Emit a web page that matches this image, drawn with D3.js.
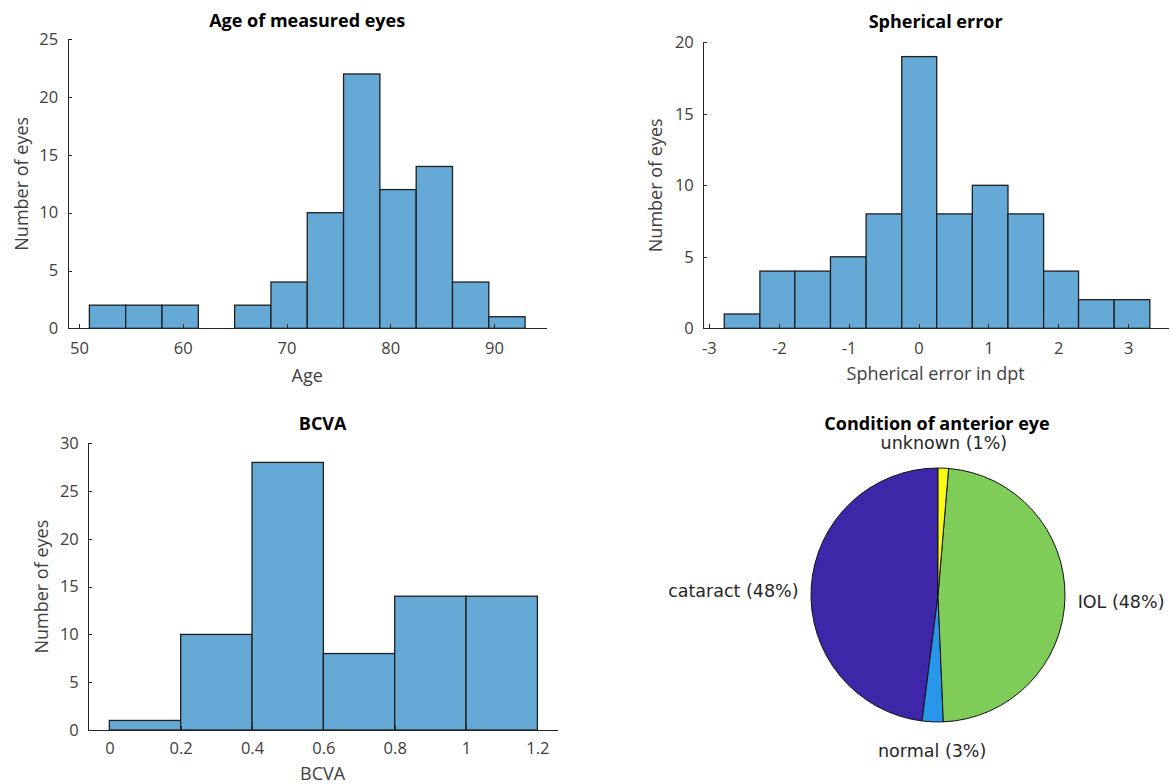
<!DOCTYPE html>
<html>
<head>
<meta charset="utf-8">
<script src="https://cdn.jsdelivr.net/npm/d3@7"></script>
<style>
  body { margin: 0; background: #fff; }
  .tick text { font-family: 'Open Sans', sans-serif; font-size: 16.5px; fill: #404040; }
  .axis path, .axis line { stroke: #262626; stroke-width: 1; shape-rendering: crispEdges; }
  .label { font-family: 'Open Sans', sans-serif; font-size: 18px; fill: #404040; }
  .title { font-family: 'Open Sans', sans-serif; font-size: 18px; font-weight: bold; fill: #000; }
  .pielabel { font-family: 'DejaVu Sans', sans-serif; font-size: 17.5px; fill: #262626; }
</style>
</head>
<body>
<svg id="chart" width="1171" height="784"></svg>
<script>
// age histogram
const ageEdges = [51, 54.5, 58, 61.5, 65, 68.5, 72, 75.5, 79, 82.5, 86, 89.5, 93];
const ageCounts = [2, 2, 2, 0, 2, 4, 10, 22, 12, 14, 4, 1];
const ageTicks = [50, 60, 70, 80, 90];
const ageYTicks = [0, 5, 10, 15, 20, 25];

// spherical error histogram
const sphEdges = [-2.78, -2.27, -1.77, -1.26, -0.75, -0.24, 0.26, 0.77, 1.28, 1.79, 2.29, 2.80, 3.31];
const sphCounts = [1, 4, 4, 5, 8, 19, 8, 10, 8, 4, 2, 2];
const sphTicks = [-3, -2, -1, 0, 1, 2, 3];
const sphYTicks = [0, 5, 10, 15, 20];

// BCVA histogram
const bcvaEdges = [0, 0.2, 0.4, 0.6, 0.8, 1.0, 1.2];
const bcvaCounts = [1, 10, 28, 8, 14, 14];
const bcvaTicks = [0, 0.2, 0.4, 0.6, 0.8, 1, 1.2];
const bcvaYTicks = [0, 5, 10, 15, 20, 25, 30];

// anterior eye condition
const conditionNames = ['cataract', 'normal', 'IOL', 'unknown'];
const conditionCounts = [36, 2, 36, 1];
const conditionColors = ['#3e26a8', '#2796eb', '#80cc59', '#f9fb15'];

const svg = d3.select('#chart');
const barFill = '#65a9d7';

function histogram(o) {
  const x = d3.scaleLinear().domain(o.xDomain).range([o.left, o.right]);
  const y = d3.scaleLinear().domain(o.yDomain).range([o.bottom, o.top]);
  const g = svg.append('g');

  const bins = o.counts.map((c, i) => ({ x0: o.edges[i], x1: o.edges[i + 1], n: c }))
    .filter(d => d.n > 0);

  g.selectAll('rect').data(bins).enter().append('rect')
    .attr('x', d => x(d.x0))
    .attr('y', d => y(d.n))
    .attr('width', d => x(d.x1) - x(d.x0))
    .attr('height', d => y(0) - y(d.n))
    .style('fill', barFill)
    .style('stroke', '#1e1e1e')
    .style('stroke-width', 1.3);

  // matlab style: ticks point inward, plain hyphen for negatives
  g.append('g')
    .attr('class', 'axis')
    .attr('transform', 'translate(0,' + o.bottom + ')')
    .call(d3.axisBottom(x).tickValues(o.xTicks).tickFormat(d => String(d)).tickSizeInner(-4).tickSizeOuter(0).tickPadding(o.xPad || 14));

  g.append('g')
    .attr('class', 'axis')
    .attr('transform', 'translate(' + o.left + ',0)')
    .call(d3.axisLeft(y).tickValues(o.yTicks).tickSizeInner(-4).tickSizeOuter(0).tickPadding(9.5));

  const cx = (o.left + o.right) / 2;
  g.append('text').attr('class', 'title')
    .attr('x', cx).attr('y', o.titleY)
    .attr('text-anchor', 'middle').text(o.title);
  g.append('text').attr('class', 'label')
    .attr('x', cx).attr('y', o.xLabelY)
    .attr('text-anchor', 'middle').text(o.xLabel);
  g.append('text').attr('class', 'label')
    .attr('transform', 'translate(' + o.yLabelX + ',' + (o.top + o.bottom) / 2 + ') rotate(-90)')
    .attr('text-anchor', 'middle').text('Number of eyes');
}

histogram({
  edges: ageEdges, counts: ageCounts, xTicks: ageTicks, yTicks: ageYTicks,
  xDomain: [48.91, 95.08], yDomain: [0, 25],
  left: 67.7, right: 546.7, top: 39.3, bottom: 328.3,
  title: 'Age of measured eyes', titleY: 27, xLabel: 'Age', xLabelY: 382, yLabelX: 28
});

histogram({
  edges: sphEdges, counts: sphCounts, xTicks: sphTicks, yTicks: sphYTicks,
  xDomain: [-3.08, 3.57], yDomain: [0, 20],
  left: 703.3, right: 1168, top: 42.3, bottom: 328.3,
  title: 'Spherical error', titleY: 28, xLabel: 'Spherical error in dpt', xLabelY: 380, yLabelX: 661.5
});

histogram({
  edges: bcvaEdges, counts: bcvaCounts, xTicks: bcvaTicks, yTicks: bcvaYTicks,
  xDomain: [-0.059, 1.255], yDomain: [0, 30],
  left: 88.3, right: 557, top: 443.3, bottom: 730,
  title: 'BCVA', titleY: 430, xLabel: 'BCVA', xLabelY: 779.5, yLabelX: 47.8, xPad: 12.5
});

// pie, counterclockwise from the top like matlab
const pieCx = 938, pieCy = 595, pieR = 127;
const total = d3.sum(conditionCounts);
const slices = d3.pie().sort(null).startAngle(0).endAngle(-2 * Math.PI)(conditionCounts);
const arc = d3.arc().innerRadius(0).outerRadius(pieR);
const pg = svg.append('g').attr('transform', 'translate(' + pieCx + ',' + pieCy + ')');

pg.selectAll('path').data(slices).enter().append('path')
  .attr('d', arc)
  .style('fill', (d, i) => conditionColors[i])
  .style('stroke', '#111')
  .style('stroke-width', 1);

pg.selectAll('text').data(slices).enter().append('text')
  .attr('class', 'pielabel')
  .each(function(d, i) {
    const a = (d.startAngle + d.endAngle) / 2;
    const lx = Math.sin(a) * pieR * 1.1;
    const ly = -Math.cos(a) * pieR * 1.1;
    const t = d3.select(this)
      .attr('x', lx)
      .attr('text-anchor', Math.sin(a) < -0.3 ? 'end' : (Math.sin(a) > 0.3 ? 'start' : 'middle'));
    if (-Math.cos(a) < -0.9) t.attr('y', ly - 6);
    else if (-Math.cos(a) > 0.9) t.attr('y', ly + 22);
    else t.attr('y', ly).attr('dy', '0.6em');
    t.text(conditionNames[i] + ' (' + Math.round(conditionCounts[i] / total * 100) + '%)');
  });

svg.append('text').attr('class', 'title')
  .attr('x', 937).attr('y', 430)
  .attr('text-anchor', 'middle').text('Condition of anterior eye');
</script>
</body>
</html>
